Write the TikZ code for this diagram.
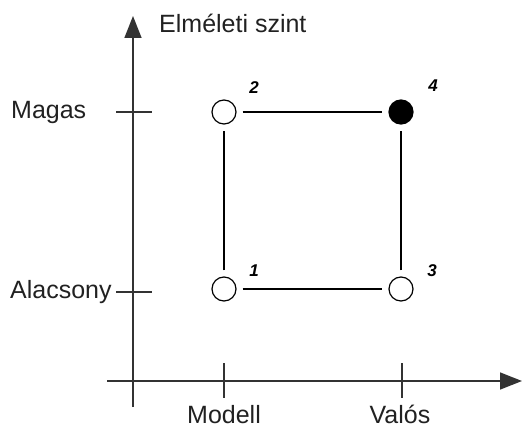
\documentclass[tikz,border=0pt]{standalone}
\usepackage{fontspec}
\setmainfont{Liberation Sans}
\usetikzlibrary{arrows.meta}
\begin{document}
\begin{tikzpicture}[x=1pt,y=-1pt,
  axis/.style={line width=1.5pt,draw=black!80,-{Triangle[length=22pt,width=17pt]}},
  tick/.style={line width=1.3pt,draw=black!80},
  pt/.style={circle,draw,line width=1.2pt,minimum size=24pt,inner sep=0pt,fill=white},
  ptfull/.style={pt,fill=black},
  link/.style={line width=1.3pt,shorten <=6pt,shorten >=6pt},
  lab/.style={font=\fontsize{25}{30}\selectfont,text=black!87,inner sep=0pt},
  num/.style={font=\fontsize{17}{20}\selectfont\bfseries\itshape,inner sep=0pt,anchor=base}]
\useasboundingbox (0,0) rectangle (522,428);
% axes
\coordinate (yb) at (133,407);
\coordinate (yt) at (133,16);
\coordinate (xl) at (107,381);
\coordinate (xr) at (522,381);
\draw[axis] (yb) -- (yt);
\draw[axis] (xl) -- (xr);
% ticks
\coordinate (t1a) at (116,112); \coordinate (t1b) at (152,112);
\coordinate (t2a) at (116,292); \coordinate (t2b) at (152,292);
\coordinate (t3a) at (224,363); \coordinate (t3b) at (224,398);
\coordinate (t4a) at (402,363); \coordinate (t4b) at (402,398);
\draw[tick] (t1a) -- (t1b);
\draw[tick] (t2a) -- (t2b);
\draw[tick] (t3a) -- (t3b);
\draw[tick] (t4a) -- (t4b);
% labels
\node[lab,anchor=base west] (ylab) at (159,33) {Elméleti szint};
\node[lab,anchor=base west] (magas) at (11,118) {Magas};
\node[lab,anchor=base west] (alacs) at (10,298) {Alacsony};
\node[lab,anchor=base] (modell) at (224,423) {Modell};
\node[lab,anchor=base] (valos) at (400,423) {Valós};
% points
\node[pt] (p1) at (224,289) {};
\node[pt] (p2) at (224,112) {};
\node[pt] (p3) at (401,289) {};
\node[ptfull] (p4) at (401,112) {};
\draw[link] (p1) -- (p3);
\draw[link] (p1) -- (p2);
\draw[link] (p2) -- (p4);
\draw[link] (p3) -- (p4);
% numbers
\node[num] (n1) at (254,276) {1};
\node[num] (n2) at (254,93) {2};
\node[num] (n3) at (432,276) {3};
\node[num] (n4) at (433,92) {4};
\end{tikzpicture}
\end{document}
